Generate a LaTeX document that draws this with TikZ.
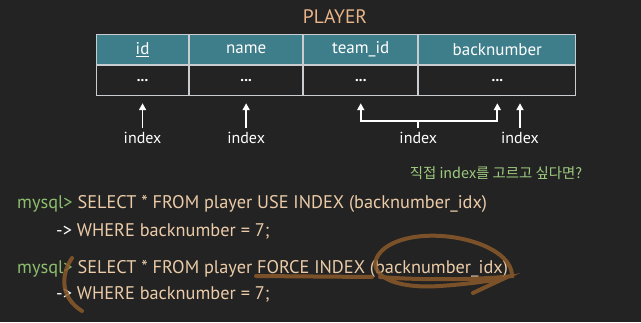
\documentclass[tikz,border=0pt]{standalone}
\usepackage{fontspec}
\setmainfont{PT Sans}
\newfontfamily\kofont{Noto Sans CJK KR}
\usetikzlibrary{arrows.meta,positioning,calc}

\definecolor{bgdark}{HTML}{232323}
\definecolor{headteal}{HTML}{3E7E8B}
\definecolor{gridgray}{HTML}{C9CDCF}
\definecolor{titleorange}{HTML}{E9B589}
\definecolor{codepeach}{HTML}{EBCBA8}
\definecolor{promptgreen}{HTML}{8DBE6E}
\definecolor{notegreen}{HTML}{9DCB7F}
\definecolor{penbrown}{HTML}{8A5A2A}

\begin{document}
\begin{tikzpicture}[
    x=1pt, y=-1pt,
    >={Triangle[length=7pt,width=7pt]},
    head/.style={draw=gridgray, line width=1.1pt, fill=headteal, minimum height=30pt, inner sep=0pt, text=white, font=\fontsize{17}{19}\selectfont},
    cell/.style={draw=gridgray, line width=1.1pt, minimum height=30pt, inner sep=0pt, text=white, font=\bfseries\fontsize{15}{17}\selectfont},
    idx/.style={text=white, inner sep=0pt, font=\fontsize{16}{18}\selectfont},
    up/.style={->, white, line width=1.8pt},
    code/.style={anchor=base west, inner sep=0pt, text=codepeach, font=\fontsize{18.3}{20}\selectfont},
    pen/.style={penbrown, line width=4pt, line cap=round, opacity=0.85},
]

% background
\fill[bgdark] (0,0) rectangle (641,322);
\useasboundingbox (0,0) rectangle (641,322);

% table title
\node[text=titleorange, font=\fontsize{19.5}{21}\selectfont] (title) at (335,17) {PLAYER};

% header row
\node[head, anchor=north west, minimum width=92pt] (h1) at (96,34) {\underline{id}};
\node[head, anchor=west, minimum width=113pt, right=0pt of h1] (h2) {name};
\node[head, anchor=west, minimum width=114pt, right=0pt of h2] (h3) {team\_id};
\node[head, anchor=west, minimum width=157pt, right=0pt of h3] (h4) {backnumber};

% data row
\node[cell, minimum width=92pt, below=0pt of h1] (c1) {...};
\node[cell, minimum width=113pt, below=0pt of h2] (c2) {...};
\node[cell, minimum width=114pt, below=0pt of h3] (c3) {...};
\node[cell, minimum width=157pt, below=0pt of h4] (c4) {...};

% index labels
\node[idx] (i1) at (c1.south |- 0,138) {index};
\node[idx] (i2) at (c2.south |- 0,138) {index};
\node[idx] (i3) at (h4.south west |- 0,138) {index};
\node[idx] (i4) at (520,138) {index};

% arrows to columns
\draw[up] ([yshift=4pt]i1.north) -- ([yshift=-7pt]c1.south);
\draw[up] ([yshift=4pt]i2.north) -- ([yshift=-7pt]c2.south);
\draw[up] ([yshift=4pt]i4.north) -- ([yshift=-7pt]i4.north |- c4.south);

% composite index bracket
\coordinate (br) at ($(i3.north)+(0,-11)$);
\draw[white, line width=1.8pt] ([yshift=4pt]i3.north) -- (br);
\draw[up] (br) -| ([yshift=-7pt]c3.south);
\draw[up] (br) -| ([yshift=-7pt]c4.south);

% question
\node[text=notegreen, font=\kofont\fontsize{14.4}{16}\selectfont] (ask) at (496,173) {직접 index를 고르고 싶다면?};

% queries
\node[code] (q1) at (17,208) {\textcolor{promptgreen}{mysql>} SELECT * FROM player USE INDEX (backnumber\_idx)};
\node[code] (q2) at (56,236) {\textcolor{white}{->} WHERE backnumber = 7;};
\node[code] (q3) at (17,273) {\textcolor{promptgreen}{mysql>} SELECT * FROM player FORCE INDEX (backnumber\_idx)};
\node[code] (q4) at (56,299) {\textcolor{white}{->} WHERE backnumber = 7;};

% hand-drawn marks
\draw[pen] (72,258) .. controls (60,276) and (61,298) .. (82,311);
\draw[pen] (256,276) -- (372,277);
\draw[pen] (380,277) .. controls (430,281) and (490,279) .. (512,276)
  .. controls (512,240) and (420,222) .. (385,248)
  .. controls (362,266) and (380,290) .. (440,286)
  .. controls (470,284) and (495,280) .. (505,278) -- (473,293);

\end{tikzpicture}
\end{document}
